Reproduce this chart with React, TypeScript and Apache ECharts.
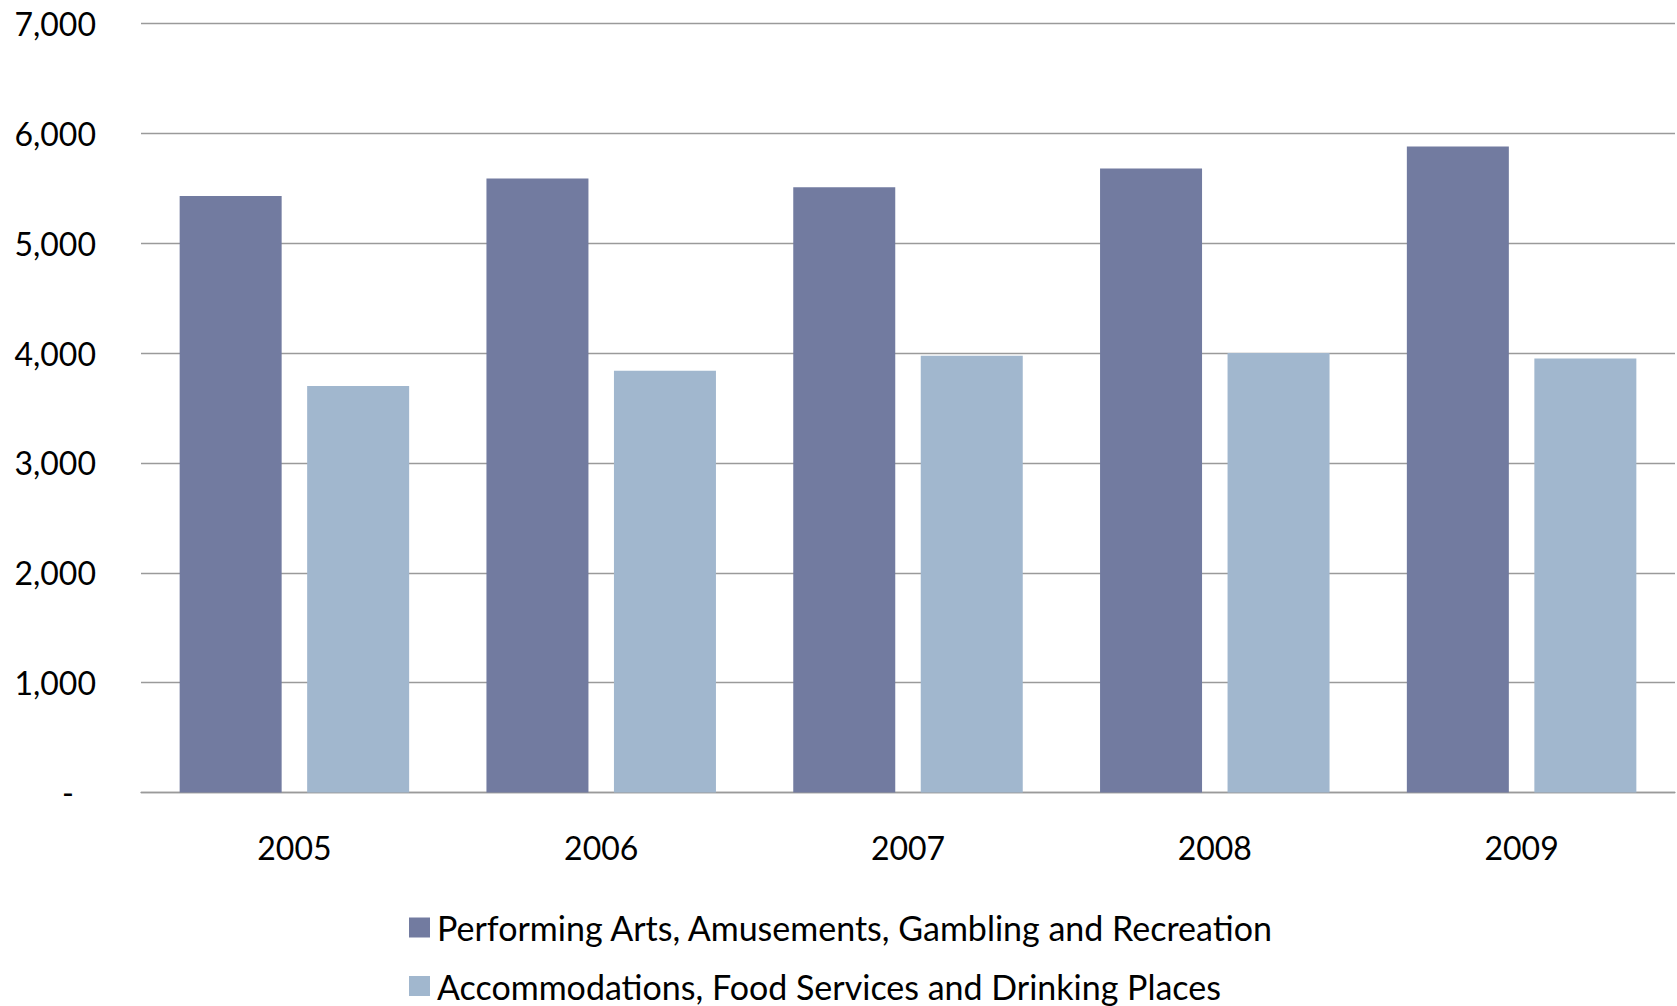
import React, { useEffect, useRef } from "react";
import * as echarts from "echarts";

const categories = ["2005", "2006", "2007", "2008", "2009"];
const performingArts = [5430, 5590, 5510, 5680, 5880];
const accommodations = [3700, 3840, 3975, 4000, 3950];
const seriesNames = [
  "Performing Arts, Amusements, Gambling and Recreation",
  "Accommodations, Food Services and Drinking Places",
];

const FONT = "Lato, 'Noto Sans', sans-serif";

const legendBase = {
  orient: "horizontal",
  left: 409,
  padding: 0,
  itemWidth: 21,
  itemHeight: 20,
  icon: "rect",
  textStyle: { fontFamily: FONT, fontSize: 34, color: "#000", padding: [0, 0, 0, 2] },
};

export default function App() {
  const ref = useRef<HTMLDivElement>(null);
  useEffect(() => {
    if (!ref.current) return;
    const chart = echarts.init(ref.current, null, { renderer: "svg" });
    chart.setOption({
      animation: false,
      backgroundColor: "#ffffff",
      grid: { left: 141, right: 2, top: 23.5, bottom: 213.5 },
      legend: [
        { ...legendBase, top: 910.5, data: [seriesNames[0]] },
        { ...legendBase, top: 969, data: [seriesNames[1]] },
      ],
      xAxis: {
        type: "category",
        data: categories,
        axisTick: { show: false },
        axisLine: { lineStyle: { color: "#9a9a9a", width: 1.3 } },
        axisLabel: { margin: 39, fontSize: 32, fontFamily: FONT, color: "#000" },
      },
      yAxis: {
        type: "value",
        min: 0,
        max: 7000,
        interval: 1000,
        axisLine: { show: false },
        axisTick: { show: false },
        splitLine: { lineStyle: { color: "#9a9a9a", width: 1.3 } },
        axisLabel: {
          margin: 45,
          fontSize: 32,
          fontFamily: FONT,
          color: "#000",
          formatter: (v: number) => (v === 0 ? "{d|-}" : v.toLocaleString("en-US")),
          rich: {
            d: { fontSize: 32, fontFamily: FONT, color: "#000", padding: [0, 22, 0, 0] },
          },
        },
      },
      series: [
        {
          name: seriesNames[0],
          type: "bar",
          data: performingArts,
          barWidth: 102,
          barGap: "25%",
          itemStyle: { color: "#727ba0" },
        },
        {
          name: seriesNames[1],
          type: "bar",
          data: accommodations,
          barWidth: 102,
          barGap: "25%",
          itemStyle: { color: "#a1b7ce" },
        },
      ],
    });
    return () => chart.dispose();
  }, []);
  return (
    <div
      ref={ref}
      style={{ position: "absolute", left: 0, top: 0, width: 1677, height: 1006 }}
    />
  );
}
